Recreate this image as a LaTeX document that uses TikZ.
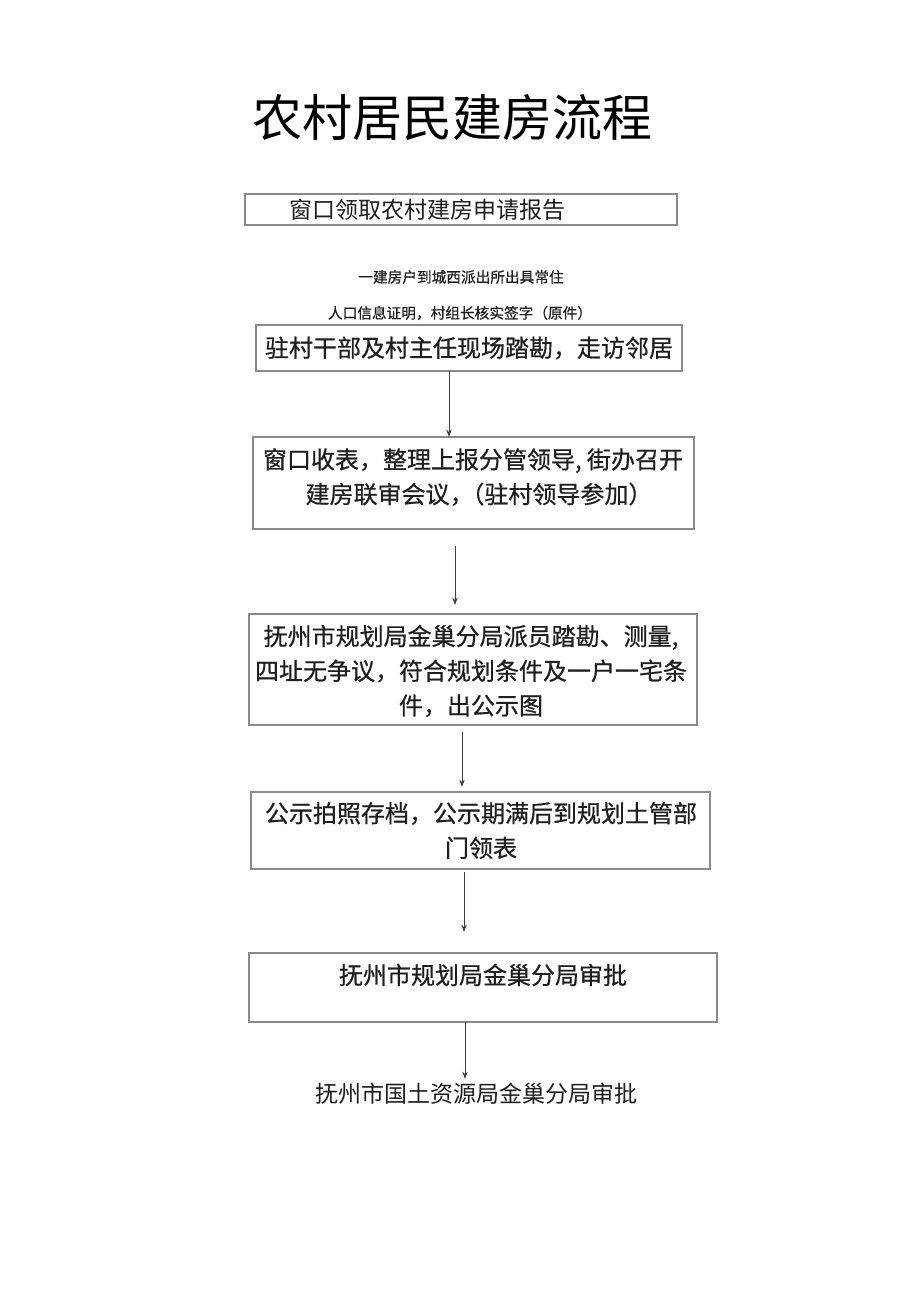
\documentclass[tikz,border=0pt]{standalone}
\usepackage{fontspec}
\setmainfont{Noto Sans CJK SC}
\newfontfamily\boldish[FakeBold=0.6]{Noto Sans CJK SC}
\usetikzlibrary{arrows.meta}
\definecolor{boxline}{HTML}{8A8A8A}
\definecolor{ink}{HTML}{1E1E1E}
\begin{document}
\begin{tikzpicture}[x=0.75pt,y=-0.75pt,
  box/.style={draw=boxline,line width=0.9pt,inner sep=0pt,outer sep=0pt},
  txt/.style={text=ink,inner sep=0pt,align=center,font=\boldish\fontsize{18pt}{26pt}\selectfont},
  note/.style={text=ink,inner sep=0pt,font=\boldish\fontsize{11pt}{13pt}\selectfont},
  arr/.style={draw=ink!85,line width=0.75pt,-{Stealth[length=5.5pt,width=4pt]}}]
\useasboundingbox (0,0) rectangle (920,1301);
\fill[white] (0,0) rectangle (920,1301);
% title
\node[text=black,inner sep=0pt,font=\fontsize{37.5pt}{40pt}\selectfont] (title) at (452,118) {农村居民建房流程};
% boxes
\node[box,minimum width=324pt,minimum height=23.25pt] (b1) at (461,209.5) {};
\node[box,minimum width=319.5pt,minimum height=34.5pt] (b2) at (469,348) {};
\node[box,minimum width=330.75pt,minimum height=69pt] (b3) at (473.5,483) {};
\node[box,minimum width=336pt,minimum height=83.25pt] (b4) at (473,669.5) {};
\node[box,minimum width=344.25pt,minimum height=57.75pt] (b5) at (480.5,830.5) {};
\node[box,minimum width=351pt,minimum height=51.75pt] (b6) at (483,987.5) {};
% texts
\node[txt,font=\fontsize{17.25pt}{20pt}\selectfont] (t1) at (427,210) {窗口领取农村建房申请报告};
\node[note] (n1) at (461,277) {一建房户到城西派出所出具常住};
\node[note] (n2) at (460,313) {人口信息证明，村组长核实签字（原件）};
\node[txt] (t2) at (469,348) {驻村干部及村主任现场踏勘，走访邻居};
\node[txt] (t3) at (473,477) {窗口收表，整理上报分管领导, 街办召开\\\hspace*{0.5em}建房联审会议，\hspace{-0.55em}（驻村领导参加）};
\node[txt] (t4) at (471,671) {抚州市规划局金巢分局派员踏勘、测量,\\四址无争议，符合规划条件及一户一宅条\\件，出公示图};
\node[txt] (t5) at (481,830.5) {公示拍照存档，公示期满后到规划土管部\\门领表};
\node[txt] (t6) at (483,975) {抚州市规划局金巢分局审批};
\node[txt,font=\fontsize{17.25pt}{20pt}\selectfont] (t7) at (476,1094) {抚州市国土资源局金巢分局审批};
% arrow columns
\coordinate (c1) at (449,0);
\coordinate (c2) at (455,0);
\coordinate (c3) at (462,0);
\coordinate (c4) at (464,0);
\coordinate (c5) at (465,0);
\draw[arr] (b2.south -| c1) -- (b3.north -| c1);
\draw[arr,shorten <=12.75pt,shorten >=6.75pt] (b3.south -| c2) -- (b4.north -| c2);
\draw[arr,shorten <=5.25pt,shorten >=3.75pt] (b4.south -| c3) -- (b5.north -| c3);
\draw[arr,shorten <=2.25pt,shorten >=15.75pt] (b5.south -| c4) -- (b6.north -| c4);
\draw[arr,shorten >=3pt] (b6.south -| c5) -- (t7.north -| c5);
\end{tikzpicture}
\end{document}
